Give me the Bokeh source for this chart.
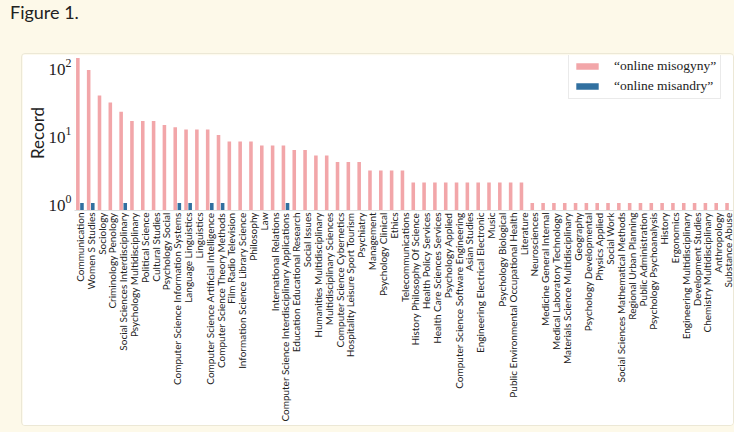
import math
from bokeh.plotting import figure
from bokeh.models import (FactorRange, ColumnDataSource, Legend, LegendItem, Div,
                          LogTickFormatter, FixedTicker)
from bokeh.layouts import column
from bokeh.transform import dodge
from bokeh.embed import file_html
from bokeh.resources import INLINE

categories = [
    "Communication", "Women S Studies", "Sociology", "Criminology Penology",
    "Social Sciences Interdisciplinary", "Psychology Multidisciplinary",
    "Political Science", "Cultural Studies", "Psychology Social",
    "Computer Science Information Systems", "Language Linguistics", "Linguistics",
    "Computer Science Artificial Intelligence", "Computer Science Theory Methods",
    "Film Radio Television", "Information Science Library Science", "Philosophy",
    "Law", "International Relations",
    "Computer Science Interdisciplinary Applications",
    "Education Educational Research", "Social Issues",
    "Humanities Multidisciplinary", "Multidisciplinary Sciences",
    "Computer Science Cybernetics", "Hospitality Leisure Sport Tourism",
    "Psychiatry", "Management", "Psychology Clinical", "Ethics",
    "Telecommunications", "History Philosophy Of Science",
    "Health Policy Services", "Health Care Sciences Services",
    "Psychology Applied", "Computer Science Software Engineering",
    "Asian Studies", "Engineering Electrical Electronic", "Music",
    "Psychology Biological", "Public Environmental Occupational Health",
    "Literature", "Neurosciences", "Medicine General Internal",
    "Medical Laboratory Technology", "Materials Science Multidisciplinary",
    "Geography", "Psychology Developmental", "Physics Applied", "Social Work",
    "Social Sciences Mathematical Methods", "Regional Urban Planning",
    "Public Administration", "Psychology Psychoanalysis", "History",
    "Ergonomics", "Engineering Multidisciplinary", "Development Studies",
    "Chemistry Multidisciplinary", "Anthropology", "Substance Abuse",
]

misogyny = [135, 90, 38, 30, 22, 16, 16, 16, 14, 13, 12, 12, 12, 10, 8, 8, 8,
            7, 7, 7, 6, 6, 5, 5, 4, 4, 4, 3, 3, 3, 3,
            2, 2, 2, 2, 2, 2, 2, 2, 2, 2, 2,
            1, 1, 1, 1, 1, 1, 1, 1, 1, 1, 1, 1, 1, 1, 1, 1, 1, 1, 1]

misandry = [1, 1, 0, 0, 1, 0, 0, 0, 0, 1, 1, 0, 1, 1, 0, 0, 0, 0, 0, 1,
            0, 0, 0, 0, 0, 0, 0, 0, 0, 0, 0, 0, 0, 0, 0, 0, 0, 0, 0, 0,
            0, 0, 0, 0, 0, 0, 0, 0, 0, 0, 0, 0, 0, 0, 0, 0, 0, 0, 0, 0, 0]

series_labels = ["\u201conline misogyny\u201d", "\u201conline misandry\u201d"]
y_ticks = [1, 10, 100]

PINK = "#F2A6A9"
BLUE = "#3170A0"
Y_START = 10 ** -0.109
Y_END = 10 ** 2.168

src_f = ColumnDataSource(dict(cat=categories, val=misogyny))
mi_cats = [c for c, v in zip(categories, misandry) if v > 0]
mi_vals = [v for v in misandry if v > 0]
src_m = ColumnDataSource(dict(cat=mi_cats, val=mi_vals))

p = figure(
    x_range=FactorRange(*categories, range_padding=0.0),
    y_range=(Y_START, Y_END), y_axis_type="log",
    frame_width=658, frame_height=153,
    min_border_left=52, min_border_right=1, min_border_top=1, min_border_bottom=217,
    output_backend="svg", toolbar_location=None,
    background_fill_color="white", border_fill_color="white",
    outline_line_color=None,
)
p.x_range.factor_padding = 0.0

r1 = p.vbar(x=dodge("cat", -0.19, range=p.x_range), top="val", bottom=Y_START,
            width=0.33, source=src_f, fill_color=PINK, line_color=None)
r2 = p.vbar(x=dodge("cat", 0.19, range=p.x_range), top="val", bottom=Y_START,
            width=0.33, source=src_m, fill_color=BLUE, line_color=None)

p.xgrid.grid_line_color = None
p.ygrid.grid_line_color = None

for ax in (p.xaxis[0], p.yaxis[0]):
    ax.major_tick_out = 0
    ax.major_tick_in = 0
    ax.minor_tick_out = 0
    ax.minor_tick_in = 0
    ax.major_tick_line_color = None
    ax.minor_tick_line_color = None

xa = p.xaxis[0]
xa.major_label_orientation = math.pi / 2
xa.major_label_text_font = "Lato"
xa.major_label_text_font_size = "10px"
xa.major_label_text_color = "#222222"
xa.axis_line_color = "#dddddd"
xa.major_label_standoff = 2

ya = p.yaxis[0]
ya.ticker = FixedTicker(ticks=y_ticks)
ya.formatter = LogTickFormatter()
ya.major_label_text_font = "Liberation Serif"
ya.major_label_text_font_size = "17px"
ya.major_label_text_color = "#222222"
ya.axis_line_color = None
ya.major_label_standoff = 3
ya.axis_label = "Record"
ya.axis_label_text_font = "Lato"
ya.axis_label_text_font_style = "normal"
ya.axis_label_text_font_size = "17px"
ya.axis_label_text_color = "#222222"
ya.axis_label_standoff = -2

legend = Legend(items=[LegendItem(label=series_labels[0], renderers=[r1]),
                       LegendItem(label=series_labels[1], renderers=[r2])],
                location=(494, 111))
legend.label_text_font = "Liberation Serif"
legend.label_text_font_size = "13.5px"
legend.label_text_color = "#222222"
legend.glyph_width = 28
legend.glyph_height = 8
legend.label_standoff = 13
legend.spacing = 4
legend.padding = 4
legend.margin = 0
legend.border_line_color = "#d5d5d5"
legend.background_fill_alpha = 0.8
p.add_layout(legend)

p.margin = (23, 0, 0, 21)
p.styles = {"border": "1px solid #ece8d6", "border-radius": "4px", "overflow": "hidden"}

title = Div(text="Figure 1.", width=200, height=30, margin=(0, 0, 0, 10),
            styles={"font-family": "Lato", "font-size": "18px", "color": "#222222"})

layout = column(title, p)

html = file_html(layout, INLINE)
html = html.replace("<head>", "<head><style>html,body{background:#fdf9e9;overflow:hidden;}</style>", 1)
open("out.html", "w").write(html)
